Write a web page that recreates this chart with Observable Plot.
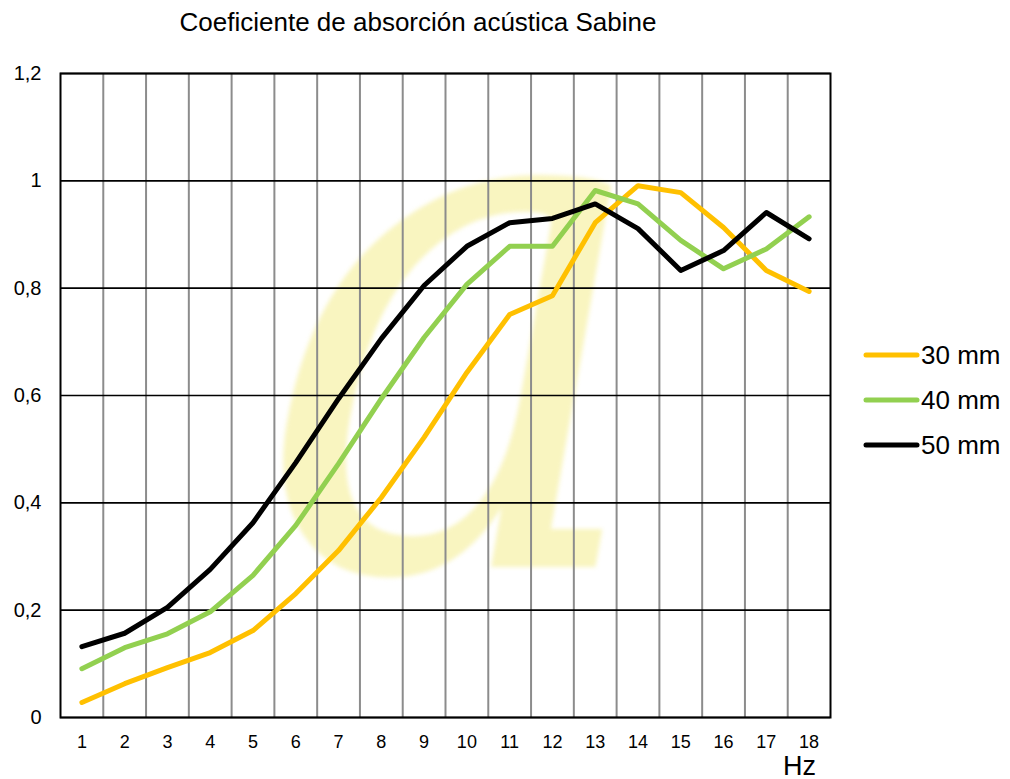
<!DOCTYPE html>
<html>
<head>
<meta charset="utf-8">
<script src="https://cdn.jsdelivr.net/npm/d3@7"></script>
<script src="https://cdn.jsdelivr.net/npm/@observablehq/plot@0.6"></script>
<style>
  html, body { margin: 0; padding: 0; background: #fff; }
  #wrap { position: relative; width: 1010px; height: 779px; font-family: "Liberation Sans", Arial, sans-serif; color: #000; }
  #title { position: absolute; left: 0; top: 9px; width: 836px; text-align: center; font-size: 26px; line-height: 1; white-space: nowrap; }
  #logo { position: absolute; left: 0; top: 0; width: 1010px; height: 779px; filter: blur(2px); }
  #chart { position: absolute; left: 0; top: 40px; }
  #unit { position: absolute; left: 783px; top: 753px; font-size: 27px; line-height: 1; }
  .key { position: absolute; left: 863px; height: 30px; display: flex; align-items: center; font-size: 26px; line-height: 30px; white-space: nowrap; }
  .key svg { display: block; margin-right: 1px; }
</style>
</head>
<body>
<div id="wrap">
  <div id="title">Coeficiente de absorción acústica Sabine</div>
  <img id="logo" alt="">
  <div id="chart"></div>
  <div id="unit">Hz</div>
</div>
<script>
// Frequency bands on the horizontal axis
const bands = [1, 2, 3, 4, 5, 6, 7, 8, 9, 10, 11, 12, 13, 14, 15, 16, 17, 18];

// Panel thickness of each series
const thicknesses = ["30 mm", "40 mm", "50 mm"];
const lineColors = ["#FFC000", "#92D050", "#000000"];

// Absorption coefficient per band
const coef30 = [0.028, 0.063, 0.093, 0.121, 0.162, 0.231, 0.311, 0.41, 0.522, 0.643, 0.751, 0.786, 0.922, 0.991, 0.978, 0.913, 0.833, 0.794];
const coef40 = [0.091, 0.130, 0.156, 0.197, 0.265, 0.358, 0.473, 0.594, 0.708, 0.807, 0.878, 0.878, 0.982, 0.957, 0.889, 0.836, 0.873, 0.933];
const coef50 = [0.132, 0.157, 0.205, 0.276, 0.363, 0.475, 0.594, 0.706, 0.805, 0.878, 0.922, 0.930, 0.957, 0.911, 0.833, 0.870, 0.941, 0.892];

// Value axis ticks
const yTicks = [0, 0.2, 0.4, 0.6, 0.8, 1, 1.2];

const seriesValues = [coef30, coef40, coef50];
const rows = thicknesses.flatMap((name, i) =>
  bands.map((b, j) => ({band: b, value: seriesValues[i][j], series: name}))
);

// Vertical separators sit between neighbouring bands
const separators = bands.slice(0, -1).map(b => b + 0.5);

// Faint brand logo shown behind the plot
const logoSvg = `<svg xmlns="http://www.w3.org/2000/svg" width="1010" height="779">
  <text x="458" y="567" text-anchor="middle" font-size="735" font-style="italic"
        font-family="DejaVu Serif Condensed, DejaVu Serif" fill="#f1e66a" fill-opacity="0.42">a</text>
</svg>`;
document.getElementById("logo").src = "data:image/svg+xml;charset=utf-8," + encodeURIComponent(logoSvg);

const chart = Plot.plot({
  width: 1010,
  height: 739,
  marginLeft: 60,
  marginRight: 180,
  marginTop: 33,
  marginBottom: 62,
  style: {fontFamily: "'Liberation Sans', Arial, sans-serif", fontSize: "18px", color: "#000", background: "transparent"},
  x: {domain: [0.5, 18.5], ticks: bands, tickFormat: d => String(d), tickSize: 0, tickPadding: 17.5, label: null},
  y: {domain: [0, 1.2], ticks: yTicks, tickFormat: d => String(d).replace(".", ","), tickSize: 0, tickPadding: 19, label: null},
  color: {domain: thicknesses, range: lineColors},
  marks: [
    Plot.ruleX(separators, {stroke: "#8c8c8c", strokeWidth: 2}),
    Plot.ruleY(yTicks, {stroke: "#000", strokeWidth: 1.6}),
    Plot.frame({stroke: "#000", strokeWidth: 2}),
    Plot.line(rows, {
      x: "band",
      y: "value",
      z: "series",
      stroke: "series",
      strokeWidth: 5,
      strokeLinecap: "round",
      strokeLinejoin: "round"
    })
  ]
});

document.getElementById("chart").appendChild(chart);
// value labels are set a little larger than the band labels
d3.select(chart).selectAll('g[aria-label^="y-axis"] text').style("font-size", "20px");

// Legend on the right side
const wrap = document.getElementById("wrap");
const keyCenters = [355, 400, 445];
thicknesses.forEach((name, i) => {
  const row = document.createElement("div");
  row.className = "key";
  row.style.top = (keyCenters[i] - 15) + "px";
  row.innerHTML = `<svg width="57" height="8"><line x1="3" y1="4" x2="54" y2="4" stroke="${lineColors[i]}" stroke-width="5" stroke-linecap="round"/></svg><span>${name}</span>`;
  wrap.appendChild(row);
});
</script>
</body>
</html>
